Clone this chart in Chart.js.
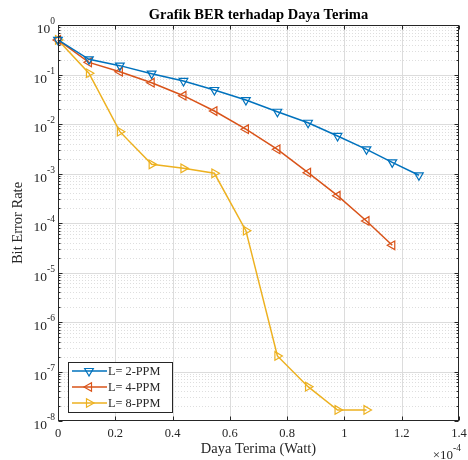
<!DOCTYPE html>
<html>
<head>
<meta charset="utf-8">
<script src="https://cdn.jsdelivr.net/npm/chart.js@4/dist/chart.umd.min.js"></script>
<style>
  html, body { margin: 0; padding: 0; background: #ffffff; }
  #wrap { width: 468px; height: 460px; }
</style>
</head>
<body>
<div id="wrap"><canvas id="c" width="468" height="460"></canvas></div>
<script>
// Received power, in units of 1e-4 W (shared by all three curves)
const dayaTerima = [0, 0.108, 0.216, 0.327, 0.438, 0.546, 0.656, 0.766, 0.873, 0.976, 1.077, 1.167, 1.260];

// Bit error rate for each PPM order
const berL2 = [0.5, 0.203, 0.151, 0.104, 0.074, 0.0486, 0.0305, 0.0177, 0.0106, 0.00573, 0.00308, 0.00168, 0.00092];
const berL4 = [0.5, 0.176, 0.114, 0.0683, 0.0373, 0.0183, 0.00785, 0.00308, 0.00104, 0.000356, 0.00011, 0.0000355];
const berL8 = [0.5, 0.106, 0.0070, 0.00153, 0.00127, 0.00101, 0.00007, 2.06e-7, 4.93e-8, 1.67e-8, 1.67e-8];

const seriesLabels = ['L= 2-PPM', 'L= 4-PPM', 'L= 8-PPM'];
const xTicks = [0, 0.2, 0.4, 0.6, 0.8, 1, 1.2, 1.4];
const xTickLabels = ['0', '0.2', '0.4', '0.6', '0.8', '1', '1.2', '1.4'];
const yExponents = [0, -1, -2, -3, -4, -5, -6, -7, -8];

const titleText = 'Grafik BER terhadap Daya Terima';
const xTitle = 'Daya Terima (Watt)';
const yTitle = 'Bit Error Rate';

const SERIF = '"Liberation Serif", "Times New Roman", serif';
const TXT = '#262626';
const COLORS = ['#0072BD', '#D95319', '#EDB120'];
const ROT = [180, 270, 90]; // down, left, right triangles

function toPoints(ys) {
  return ys.map((v, i) => ({ x: dayaTerima[i], y: v }));
}

function drawMarker(ctx, x, y, r, rot, color) {
  ctx.save();
  ctx.translate(x, y);
  ctx.rotate(rot * Math.PI / 180);
  ctx.beginPath();
  for (let k = 0; k < 3; k++) {
    const a = -Math.PI / 2 + k * 2 * Math.PI / 3;
    const px = r * Math.cos(a), py = r * Math.sin(a);
    if (k === 0) ctx.moveTo(px, py); else ctx.lineTo(px, py);
  }
  ctx.closePath();
  ctx.strokeStyle = color;
  ctx.lineWidth = 1.2;
  ctx.stroke();
  ctx.restore();
}

const matlabAxes = {
  id: 'matlabAxes',
  beforeDraw(chart) {
    const ctx = chart.ctx;
    ctx.save();
    ctx.fillStyle = '#ffffff';
    ctx.fillRect(0, 0, chart.width, chart.height);
    ctx.restore();
  },
  beforeDatasetsDraw(chart) {
    const { ctx, chartArea: a, scales: { x, y } } = chart;
    ctx.save();
    ctx.lineWidth = 1;
    // minor grid (log decades), dotted
    ctx.strokeStyle = 'rgba(0,0,0,0.13)';
    ctx.setLineDash([1, 2]);
    for (let e = 0; e > -8; e--) {
      for (let m = 2; m <= 9; m++) {
        const py = Math.round(y.getPixelForValue(m * Math.pow(10, e - 1))) + 0.5;
        ctx.beginPath(); ctx.moveTo(a.left, py); ctx.lineTo(a.right, py); ctx.stroke();
      }
    }
    // major grid, solid
    ctx.setLineDash([]);
    ctx.strokeStyle = '#dcdcdc';
    xTicks.slice(1, -1).forEach(v => {
      const px = Math.round(x.getPixelForValue(v)) + 0.5;
      ctx.beginPath(); ctx.moveTo(px, a.top); ctx.lineTo(px, a.bottom); ctx.stroke();
    });
    yExponents.slice(1, -1).forEach(e => {
      const py = Math.round(y.getPixelForValue(Math.pow(10, e))) + 0.5;
      ctx.beginPath(); ctx.moveTo(a.left, py); ctx.lineTo(a.right, py); ctx.stroke();
    });
    ctx.restore();
  },
  afterDatasetsDraw(chart) {
    const { ctx, chartArea: a, scales: { x, y } } = chart;
    ctx.save();
    ctx.strokeStyle = TXT;
    ctx.lineWidth = 1;
    const L = Math.round(a.left) + 0.5, R = Math.round(a.right) - 0.5;
    const T = Math.round(a.top) + 0.5, B = Math.round(a.bottom) - 0.5;
    ctx.strokeRect(L, T, R - L, B - T);

    // ticks (inward)
    ctx.beginPath();
    xTicks.forEach(v => {
      const px = Math.round(x.getPixelForValue(v)) + 0.5;
      ctx.moveTo(px, B); ctx.lineTo(px, B - 4);
      ctx.moveTo(px, T); ctx.lineTo(px, T + 4);
    });
    yExponents.forEach(e => {
      const py = Math.round(y.getPixelForValue(Math.pow(10, e))) + 0.5;
      ctx.moveTo(L, py); ctx.lineTo(L + 4, py);
      ctx.moveTo(R, py); ctx.lineTo(R - 4, py);
    });
    for (let e = 0; e > -8; e--) {
      for (let m = 2; m <= 9; m++) {
        const py = Math.round(y.getPixelForValue(m * Math.pow(10, e - 1))) + 0.5;
        ctx.moveTo(L, py); ctx.lineTo(L + 2, py);
        ctx.moveTo(R, py); ctx.lineTo(R - 2, py);
      }
    }
    ctx.stroke();

    ctx.fillStyle = TXT;
    // x tick labels
    ctx.font = '12.5px ' + SERIF;
    ctx.textAlign = 'center';
    ctx.textBaseline = 'middle';
    xTicks.forEach((v, i) => {
      ctx.fillText(xTickLabels[i], x.getPixelForValue(v), a.bottom + 13);
    });

    // y tick labels 10^e
    yExponents.forEach(e => {
      const py = y.getPixelForValue(Math.pow(10, e));
      const expStr = String(e);
      ctx.font = '9.5px ' + SERIF;
      const ew = ctx.measureText(expStr).width;
      const right = a.left - 3;
      ctx.textAlign = 'left';
      ctx.textBaseline = 'alphabetic';
      ctx.fillText(expStr, right - ew, py - 1);
      ctx.font = '13.5px ' + SERIF;
      ctx.textAlign = 'right';
      ctx.fillText('10', right - ew, py + 8);
    });

    // exponent multiplier for x
    ctx.textAlign = 'right';
    ctx.textBaseline = 'alphabetic';
    ctx.font = '9.5px ' + SERIF;
    const mw = ctx.measureText('-4').width;
    ctx.fillText('-4', a.right + 2, 451);
    ctx.font = '13px ' + SERIF;
    ctx.fillText('\u00d710', a.right + 2 - mw, 459);

    // axis titles
    ctx.font = '14.5px ' + SERIF;
    ctx.textAlign = 'center';
    ctx.textBaseline = 'middle';
    ctx.fillText(xTitle, (a.left + a.right) / 2, 449);
    ctx.save();
    ctx.translate(18, (a.top + a.bottom) / 2);
    ctx.rotate(-Math.PI / 2);
    ctx.fillText(yTitle, 0, 0);
    ctx.restore();

    // title
    ctx.font = 'bold 14.5px ' + SERIF;
    ctx.fillStyle = '#000000';
    ctx.fillText(titleText, (a.left + a.right) / 2, 15);

    // legend
    const bx = 68.5, by = 362.5, bw = 104, bh = 50;
    ctx.fillStyle = '#ffffff';
    ctx.fillRect(bx, by, bw, bh);
    ctx.strokeStyle = TXT;
    ctx.strokeRect(bx, by, bw, bh);
    ctx.font = '12.3px ' + SERIF;
    ctx.textAlign = 'left';
    ctx.textBaseline = 'middle';
    seriesLabels.forEach((lab, i) => {
      const ry = 371 + i * 16;
      ctx.strokeStyle = COLORS[i];
      ctx.lineWidth = 1.5;
      ctx.beginPath(); ctx.moveTo(72, ry); ctx.lineTo(107, ry); ctx.stroke();
      drawMarker(ctx, 89, ry, 5, ROT[i], COLORS[i]);
      ctx.fillStyle = TXT;
      ctx.fillText(lab, 108, ry + 0.5);
    });
    ctx.restore();
  }
};

const datasets = [berL2, berL4, berL8].map((ys, i) => ({
  label: seriesLabels[i],
  data: toPoints(ys),
  borderColor: COLORS[i],
  backgroundColor: 'rgba(0,0,0,0)',
  borderWidth: 1.5,
  pointStyle: 'triangle',
  pointRotation: ROT[i],
  pointRadius: 5,
  pointBorderWidth: 1.2,
  pointBorderColor: COLORS[i],
  pointBackgroundColor: 'rgba(0,0,0,0)',
  tension: 0,
  clip: false
}));

new Chart(document.getElementById('c'), {
  type: 'line',
  data: { datasets },
  options: {
    responsive: false,
    animation: false,
    devicePixelRatio: 1,
    layout: { padding: { left: 58, right: 9, top: 25, bottom: 39 } },
    plugins: { legend: { display: false }, title: { display: false }, tooltip: { enabled: false } },
    scales: {
      x: { type: 'linear', min: 0, max: 1.4, display: false },
      y: { type: 'logarithmic', min: 1e-8, max: 1, display: false }
    }
  },
  plugins: [matlabAxes]
});
</script>
</body>
</html>
